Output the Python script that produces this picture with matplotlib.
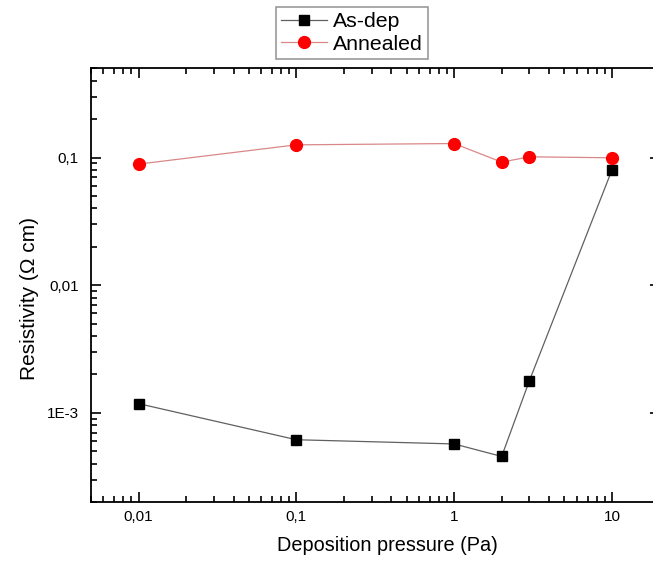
import matplotlib
matplotlib.use("Agg")
import matplotlib.pyplot as plt
from matplotlib.lines import Line2D
from matplotlib.ticker import LogLocator, FixedLocator, FixedFormatter, NullFormatter

plt.rcParams['font.family'] = ['Liberation Sans', 'DejaVu Sans']

# Deposition pressure (Pa)
pressure = [0.01, 0.1, 1, 2, 3, 10]

# Resistivity (Ohm cm)
as_dep = [1.18e-3, 6.15e-4, 5.7e-4, 4.55e-4, 1.79e-3, 0.080]
as_dep_err = [0.04e-3, 0.2e-4, 0.35e-4, 0.2e-4, 0.06e-3, 0.003]
annealed = [0.0888, 0.1257, 0.1287, 0.092, 0.1013, 0.0995]
annealed_err = [0.006, 0.007, 0.009, 0.006, 0.007, 0.004]

x_ticks = [0.01, 0.1, 1, 10]
x_tick_labels = ["0,01", "0,1", "1", "10"]
y_ticks = [1e-3, 0.01, 0.1]
y_tick_labels = ["1E-3", "0,01", "0,1"]

W, H = 653, 565
fig = plt.figure(figsize=(W / 100, H / 100), dpi=100)
ax_l, ax_r, ax_t, ax_b = 91, 659.5, 68.3, 502
ax = fig.add_axes([ax_l / W, 1 - ax_b / H, (ax_r - ax_l) / W, (ax_b - ax_t) / H])

dep_style = dict(color="#606060", lw=0.9, marker="s", ms=7, mfc="black", mec="black")
ann_style = dict(color="#d98888", lw=0.9, marker="o", ms=8.5, mfc="#ff0000", mec="#ff0000")

ax.errorbar(pressure, as_dep, yerr=as_dep_err, ecolor="#404040",
            elinewidth=0.8, capsize=3, zorder=3, **dep_style)
ax.errorbar(pressure, annealed, yerr=annealed_err, ecolor="#c06060",
            elinewidth=0.8, capsize=3, zorder=3, **ann_style)

ax.set_xscale("log")
ax.set_yscale("log")
ax.set_xlim(0.005, 20)
ax.set_ylim(2e-4, 0.5)

ax.xaxis.set_major_locator(FixedLocator(x_ticks))
ax.xaxis.set_major_formatter(FixedFormatter(x_tick_labels))
ax.yaxis.set_major_locator(FixedLocator(y_ticks))
ax.yaxis.set_major_formatter(FixedFormatter(y_tick_labels))
ax.xaxis.set_minor_locator(LogLocator(base=10, subs=range(2, 10), numticks=20))
ax.yaxis.set_minor_locator(LogLocator(base=10, subs=range(2, 10), numticks=20))
ax.xaxis.set_minor_formatter(NullFormatter())
ax.yaxis.set_minor_formatter(NullFormatter())

ax.tick_params(which="both", direction="in", top=True, right=True, width=1.2, color="black")
ax.tick_params(which="major", length=7, labelsize=11)
ax.tick_params(axis="y", which="major", pad=9)
ax.tick_params(axis="x", which="major", pad=5.5)
ax.tick_params(which="minor", length=4)
for sp in ax.spines.values():
    sp.set_linewidth(1.3)

ax.set_xlabel("Deposition pressure (Pa)", fontsize=14.3)
ax.set_ylabel("Resistivity (\u03a9 cm)", fontsize=15)
pw, ph = ax_r - ax_l, ax_b - ax_t
ax.xaxis.set_label_coords((387 - ax_l) / pw, -(536 - ax_b) / ph)
ax.yaxis.set_label_coords(-(ax_l - 39) / pw, (ax_b - 298) / ph)

handles = [Line2D([], [], **dep_style), Line2D([], [], **ann_style)]
labels = ["As-dep", "Annealed"]
leg = fig.legend(handles, labels, loc="upper left", bbox_to_anchor=(276 / W, 1 - 7 / H),
                 fontsize=15.3, frameon=True, fancybox=False, edgecolor="#808080",
                 handlelength=2.15, handletextpad=0.3, borderpad=0.25, labelspacing=0.15,
                 borderaxespad=0)
leg.get_frame().set_linewidth(1.2)

fig.savefig("out.png", dpi=100)
